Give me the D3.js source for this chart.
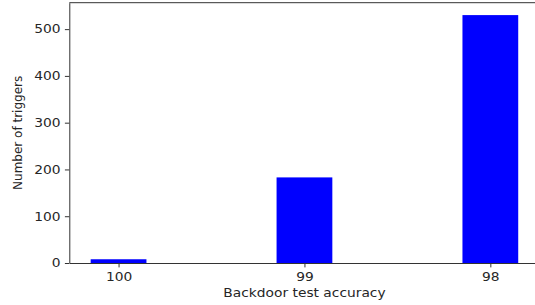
<!DOCTYPE html>
<html>
<head>
<meta charset="utf-8">
<script src="https://cdn.jsdelivr.net/npm/d3@7"></script>
<style>
  body { margin: 0; background: #fff; }
  text { font-family: "DejaVu Sans", sans-serif; fill: #262626; }
</style>
</head>
<body>
<div id="svg-area"></div>
<script>
var svgWidth = 535;
var svgHeight = 305;

// data
var categories = ["100", "99", "98"];
var triggerCounts = [8, 183, 530];
var yTicks = [0, 100, 200, 300, 400, 500];

var barWidth = 0.3;
var stretch = 1.15; // text in the picture is a bit wide

var svg = d3.select("#svg-area")
  .append("svg")
  .attr("width", svgWidth)
  .attr("height", svgHeight);

// scales - x is positional index like matplotlib bar()
var xScale = d3.scaleLinear()
  .domain([-0.265, 2.265])
  .range([69.3, 539.6]);

var yMax = d3.max(triggerCounts) * 1.05;
var yScale = d3.scaleLinear()
  .domain([0, yMax])
  .range([263, 2.7]);

// bars
svg.selectAll("rect.bar")
  .data(triggerCounts)
  .enter()
  .append("rect")
  .attr("class", "bar")
  .attr("x", function(d, i) { return xScale(i - barWidth / 2); })
  .attr("width", function(d, i) { return xScale(i + barWidth / 2) - xScale(i - barWidth / 2); })
  .attr("y", function(d) { return yScale(d); })
  .attr("height", function(d) { return yScale(0) - yScale(d); })
  .attr("fill", "#0000ff");

// axes
var xAxis = d3.axisBottom(xScale)
  .tickValues(d3.range(categories.length))
  .tickFormat(function(i) { return categories[i]; })
  .tickSize(4.4)
  .tickPadding(5.2)
  .tickSizeOuter(0);

var yAxis = d3.axisLeft(yScale)
  .tickValues(yTicks)
  .tickSize(4.4)
  .tickPadding(4.4)
  .tickSizeOuter(0);

var gx = svg.append("g")
  .attr("transform", "translate(0," + yScale(0) + ")")
  .call(xAxis);

var gy = svg.append("g")
  .attr("transform", "translate(" + xScale.range()[0] + ",0)")
  .call(yAxis);

[gx, gy].forEach(function(g) {
  g.selectAll("path, line").attr("stroke", "#333").attr("stroke-width", 1);
  g.selectAll("text")
    .attr("font-size", "12px")
    .attr("font-family", "DejaVu Sans, sans-serif")
    .attr("fill", "#262626");
});

gx.selectAll(".tick text").attr("transform", "scale(" + stretch + ",1)");
gy.selectAll(".tick text")
  .attr("x", -8.8 / stretch)
  .attr("transform", "scale(" + stretch + ",1)");

// top and right spines
svg.append("line")
  .attr("x1", xScale.range()[0]).attr("x2", xScale.range()[1])
  .attr("y1", yScale.range()[1]).attr("y2", yScale.range()[1])
  .attr("stroke", "#333").attr("stroke-width", 1);
svg.append("line")
  .attr("x1", xScale.range()[1]).attr("x2", xScale.range()[1])
  .attr("y1", yScale.range()[0]).attr("y2", yScale.range()[1])
  .attr("stroke", "#333").attr("stroke-width", 1);

// axis labels
svg.append("text")
  .attr("text-anchor", "middle")
  .attr("font-size", "12px")
  .attr("transform", "translate(" + ((xScale.range()[0] + xScale.range()[1]) / 2) + ",297) scale(" + stretch + ",1)")
  .text("Backdoor test accuracy");

svg.append("text")
  .attr("text-anchor", "middle")
  .attr("font-size", "12px")
  .attr("transform", "translate(22.3," + ((yScale.range()[0] + yScale.range()[1]) / 2) + ") rotate(-90)")
  .text("Number of triggers");
</script>
</body>
</html>
